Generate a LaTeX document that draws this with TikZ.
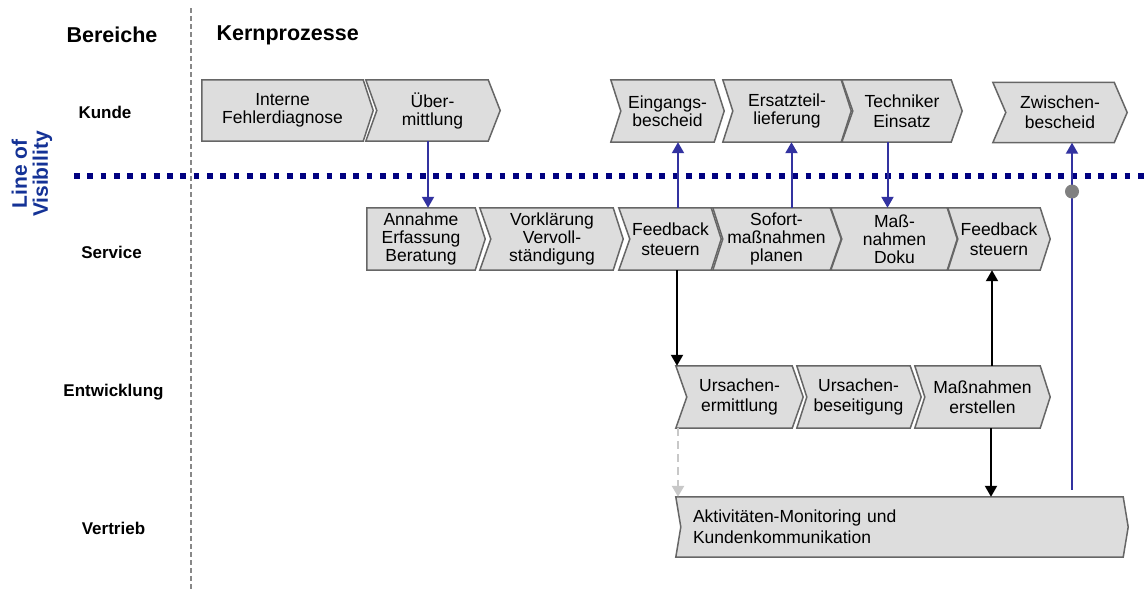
\documentclass[tikz,border=0pt]{standalone}
\usepackage{fontspec}
\setmainfont{Liberation Sans}
\usetikzlibrary{arrows.meta,backgrounds}
\definecolor{lovtext}{RGB}{20,50,150}
\definecolor{lovline}{RGB}{0,0,128}
\definecolor{arrblue}{RGB}{50,50,160}
\definecolor{boxfill}{RGB}{221,221,221}
\definecolor{boxline}{RGB}{102,102,102}
\definecolor{sepgray}{RGB}{136,136,136}
\definecolor{dashgray}{RGB}{200,200,200}
\definecolor{dotgray}{RGB}{128,128,128}
\newcommand\boxfont{\fontsize{17.5}{18}\selectfont}
\newcommand\chevshape[3]{\draw[chevline] ([xshift=-#2]#1.north west) -- (#1.north east) -- ([xshift=#3]#1.east) -- (#1.south east) -- ([xshift=-#2]#1.south west) -- (#1.west) -- cycle;}
\tikzset{
  chevline/.style={fill=boxfill, draw=boxline, line width=1.5, line join=miter},
  chevbox/.style={inner sep=0, minimum height=62, align=center, font=\boxfont},
  barrow/.style={draw=arrblue, line width=2, -{Triangle[width=12,length=11]}},
  karrow/.style={draw=black, line width=2, -{Triangle[width=12,length=11]}},
  garrow/.style={draw=dashgray, line width=2.5, dash pattern=on 8 off 5, -{Triangle[width=12,length=11]}},
  lovdots/.style={draw=lovline, line width=5.7, dash pattern=on 5.7 off 7.6},
  sepline/.style={draw=sepgray, line width=1.5, dash pattern=on 5 off 3},
  rowlabel/.style={font=\bfseries\fontsize{17}{20}\selectfont},
  header/.style={font=\bfseries\fontsize{21.5}{24}\selectfont},
  lovlabel/.style={font=\bfseries\fontsize{21}{21}\selectfont, text=lovtext, rotate=90, align=center},
  markdot/.style={circle, fill=dotgray, minimum size=14, inner sep=0},
}
\begin{document}
\begin{tikzpicture}[x=1pt,y=-1pt]
\useasboundingbox (0,0) rectangle (1144,592);

% separators
\draw[sepline] (191,8) -- (191,592);
\draw[lovdots] (74,176) -- (1144,176);

% headers and row labels
\node[header] (hber) at (112,35) {Bereiche};
\node[header, anchor=west] (hkern) at (213,35) {Kernprozesse};
\node[rowlabel] (lkunde) at (105,112) {Kunde};
\node[rowlabel] (lservice) at (111.5,252) {Service};
\node[rowlabel] (lentw) at (113.5,392) {Entwicklung};
\node[rowlabel] (lvertr) at (113.5,528) {Vertrieb};
\node[lovlabel] (lov) at (32,174) {Line of\\Visibility};

% Kunde row
\node[chevbox, minimum width=161, minimum height=61] (intern) at (282.5,110.5) {Interne\\Fehlerdiagnose};
\node[chevbox, minimum width=111, minimum height=61] (ueber) at (432.5,110.5) {Über-\\mittlung};
\node[chevbox, minimum width=93, minimum height=62] (eingang) at (667.5,111) {Eingangs-\\bescheid};
\node[chevbox, minimum width=108, minimum height=62] (ersatz) at (787,111) {Ersatzteil-\\lieferung};
\node[chevbox, minimum width=98, minimum height=62, font=\fontsize{17.5}{20}\selectfont] (techn) at (902,111) {Techniker\\Einsatz};
\node[chevbox, minimum width=108, minimum height=60, font=\fontsize{17.5}{20}\selectfont] (zwisch) at (1060,112.5) {Zwischen-\\bescheid};

% Service row
\node[chevbox, minimum width=108] (annahme) at (421,239) {Annahme\\Erfassung\\Beratung};
\node[chevbox, minimum width=122] (vork) at (552,239) {Vorklärung\\Vervoll-\\ständigung};
\node[chevbox, minimum width=81, font=\fontsize{17.5}{20}\selectfont] (fbone) at (670.5,239) {Feedback\\steuern};
\node[chevbox, minimum width=107] (sofort) at (776.5,239) {Sofort-\\maßnahmen\\planen};
\node[chevbox, minimum width=105] (doku) at (894.5,239) {Maß-\\nahmen\\Doku};
\node[chevbox, minimum width=82, font=\fontsize{17.5}{20}\selectfont] (fbtwo) at (999,239) {Feedback\\steuern};

% Entwicklung row
\node[chevbox, font=\fontsize{17.5}{20}\selectfont, minimum width=105] (ursone) at (739.5,397) {Ursachen-\\ermittlung};
\node[chevbox, font=\fontsize{17.5}{20}\selectfont, minimum width=103] (urstwo) at (858.5,397) {Ursachen-\\beseitigung};
\node[chevbox, font=\fontsize{17.5}{20}\selectfont, minimum width=115] (mass) at (982.5,397) {Maßnahmen\\erstellen};

% Vertrieb row
\node[chevbox, minimum width=442, minimum height=60, text width=418, align=left, font=\fontsize{17.5}{21}\selectfont] (vertrieb) at (902,527) {Aktivitäten-Monitoring und\\Kundenkommunikation};

\begin{pgfonlayer}{background}
\fill[white] (0,0) rectangle (1144,592);
\chevshape{intern}{0}{10}
\chevshape{ueber}{11}{12}
\chevshape{eingang}{10}{10}
\chevshape{ersatz}{10}{10}
\chevshape{techn}{11}{11}
\chevshape{zwisch}{13}{13}
\chevshape{annahme}{0}{10}
\chevshape{vork}{11}{10}
\chevshape{fbone}{11}{10}
\chevshape{sofort}{10}{11}
\chevshape{doku}{11}{10}
\chevshape{fbtwo}{10}{10}
\chevshape{ursone}{11}{11}
\chevshape{urstwo}{10}{11}
\chevshape{mass}{10}{10}
\chevshape{vertrieb}{5}{5}
\end{pgfonlayer}

% connectors
\draw[barrow] ([xshift=-4.5]ueber.south) -- ([xshift=-4.5]ueber.south |- annahme.north);
\draw[barrow] ([xshift=7.5]fbone.north) -- ([xshift=7.5]fbone.north |- eingang.south);
\draw[barrow] ([xshift=15]sofort.north) -- ([xshift=15]sofort.north |- ersatz.south);
\draw[barrow] ([xshift=-14.5]techn.south) -- ([xshift=-14.5]techn.south |- doku.north);
\draw[barrow] ([xshift=170,yshift=7]vertrieb.north) -- ([xshift=170]vertrieb.north |- zwisch.south);
\node[markdot] (dot) at (1072,191.5) {};
\draw[karrow] ([xshift=6.5]fbone.south) -- ([xshift=6.5]fbone.south |- ursone.north);
\draw[garrow] ([xshift=-61.5]ursone.south) -- ([xshift=-61.5]ursone.south |- vertrieb.north);
\draw[karrow] ([xshift=9.5]mass.north) -- ([xshift=9.5]mass.north |- fbtwo.south);
\draw[karrow] ([xshift=8.5]mass.south) -- ([xshift=8.5]mass.south |- vertrieb.north);
\end{tikzpicture}
\end{document}
